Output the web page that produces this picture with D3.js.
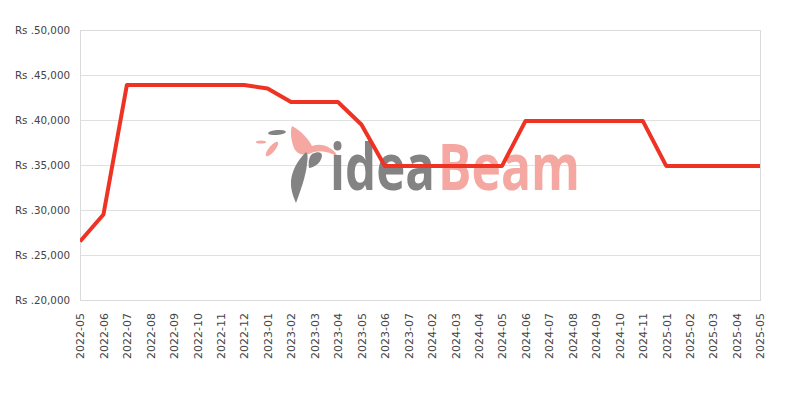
<!DOCTYPE html>
<html>
<head>
<meta charset="utf-8">
<script src="https://cdn.jsdelivr.net/npm/d3@7/dist/d3.min.js"></script>
<style>
  html, body { margin: 0; padding: 0; background: #fff; }
  svg { display: block; }
</style>
</head>
<body>
<div id="chart"></div>
<script>
const months = ["2022-05","2022-06","2022-07","2022-08","2022-09","2022-10","2022-11","2022-12",
  "2023-01","2023-02","2023-03","2023-04","2023-05","2023-06","2023-07",
  "2024-02","2024-03","2024-04","2024-05","2024-06","2024-07","2024-08","2024-09","2024-10","2024-11",
  "2025-01","2025-02","2025-03","2025-04","2025-05"];
const prices = [26500, 29500, 43900, 43900, 43900, 43900, 43900, 43900,
  43500, 42000, 42000, 42000, 39500, 34900, 34900,
  34900, 34900, 34900, 34900, 39900, 39900, 39900, 39900, 39900, 39900,
  34900, 34900, 34900, 34900, 34900];
const yTicks = [20000, 25000, 30000, 35000, 40000, 45000, 50000];

const W = 800, H = 400;
const m = { left: 80, right: 40, top: 30, bottom: 100 };
const svg = d3.select("#chart").append("svg").attr("width", W).attr("height", H);

const x = d3.scalePoint().domain(months).range([m.left, W - m.right]);
const y = d3.scaleLinear().domain([20000, 50000]).range([H - m.bottom, m.top]);

const fmt = v => "Rs ." + d3.format(",")(v);

// grid
svg.append("g").selectAll("line").data(yTicks).join("line")
  .attr("x1", m.left).attr("x2", W - m.right)
  .attr("y1", d => y(d)).attr("y2", d => y(d))
  .attr("stroke", "#e0e0e0").attr("stroke-width", 1).attr("shape-rendering", "crispEdges");

// frame
svg.append("rect").attr("x", m.left).attr("y", m.top)
  .attr("width", W - m.right - m.left).attr("height", H - m.bottom - m.top)
  .attr("fill", "none").attr("stroke", "#dadada").attr("shape-rendering", "crispEdges");

// y axis
const yAxis = d3.axisLeft(y).tickValues(yTicks).tickFormat(fmt).tickSize(0).tickPadding(10);
const gy = svg.append("g").attr("transform", `translate(${m.left},0)`).call(yAxis);
gy.select(".domain").remove();
gy.selectAll("text").attr("font-family", "DejaVu Sans").attr("font-size", 10.3).attr("fill", "#444");

// x axis
const xAxis = d3.axisBottom(x).tickSize(0).tickPadding(0);
const gx = svg.append("g").attr("transform", `translate(0,${H - m.bottom})`).call(xAxis);
gx.select(".domain").remove();
gx.selectAll("text")
  .attr("font-family", "DejaVu Sans").attr("font-size", 11).attr("fill", "#444")
  .attr("text-anchor", "end")
  .attr("transform", "translate(0,13) rotate(-90)")
  .attr("x", 0).attr("y", 0).attr("dy", "0.35em");

// watermark logo
const logo = svg.append("g").attr("opacity", 0.95);
const salmon = "#f5a39c", grey = "#7d7d7d";
logo.append("ellipse").attr("cx", 277).attr("cy", 132.5).attr("rx", 9).attr("ry", 2.5).attr("fill", grey).attr("transform", "rotate(-5,277,132.5)");
logo.append("ellipse").attr("cx", 261).attr("cy", 142).attr("rx", 5).attr("ry", 1.5).attr("fill", salmon);
logo.append("ellipse").attr("cx", 272).attr("cy", 149).attr("rx", 9).attr("ry", 3).attr("fill", salmon).attr("transform", "rotate(-50,272,149)");
logo.append("path").attr("fill", salmon)
  .attr("d", "M292,126 C300,130 308,138 312,146 C320,143 328,145 335,152 L338,157 C330,152 322,150 314,152 C306,156 298,156 294,148 C291,140 290,132 292,126 Z");
logo.append("path").attr("fill", grey)
  .attr("d", "M306,152 C298,160 290,172 291,186 C292,194 294,198 296,203 C300,192 306,176 307,164 C308,158 308,154 306,152 Z");
logo.append("path").attr("fill", grey)
  .attr("d", "M312,154 C318,151 322,152 322,156 C321,162 316,167 309,168 C308,162 309,157 312,154 Z");
const word = logo.append("g").attr("transform", "translate(330,190) scale(1,1.3)");
word.append("text").text("idea").attr("x", 0).attr("y", 0)
  .attr("font-family", "Open Sans, DejaVu Sans").attr("font-size", 49).attr("font-weight", "bold")
  .attr("textLength", 105).attr("lengthAdjust", "spacingAndGlyphs").attr("fill", grey);
word.append("text").text("Beam").attr("x", 108).attr("y", 0)
  .attr("font-family", "Open Sans, DejaVu Sans").attr("font-size", 49).attr("font-weight", "bold")
  .attr("textLength", 142).attr("lengthAdjust", "spacingAndGlyphs").attr("fill", salmon);

// clip line to plot area
svg.append("clipPath").attr("id", "clip").append("rect")
  .attr("x", m.left).attr("y", 0).attr("width", W - m.right - m.left).attr("height", H);

const line = d3.line().x((d, i) => x(months[i])).y(d => y(d));
svg.append("path").datum(prices)
  .attr("clip-path", "url(#clip)")
  .attr("d", line)
  .attr("fill", "none").attr("stroke", "#ee3324").attr("stroke-width", 4)
  .attr("stroke-linejoin", "round");
</script>
</body>
</html>
